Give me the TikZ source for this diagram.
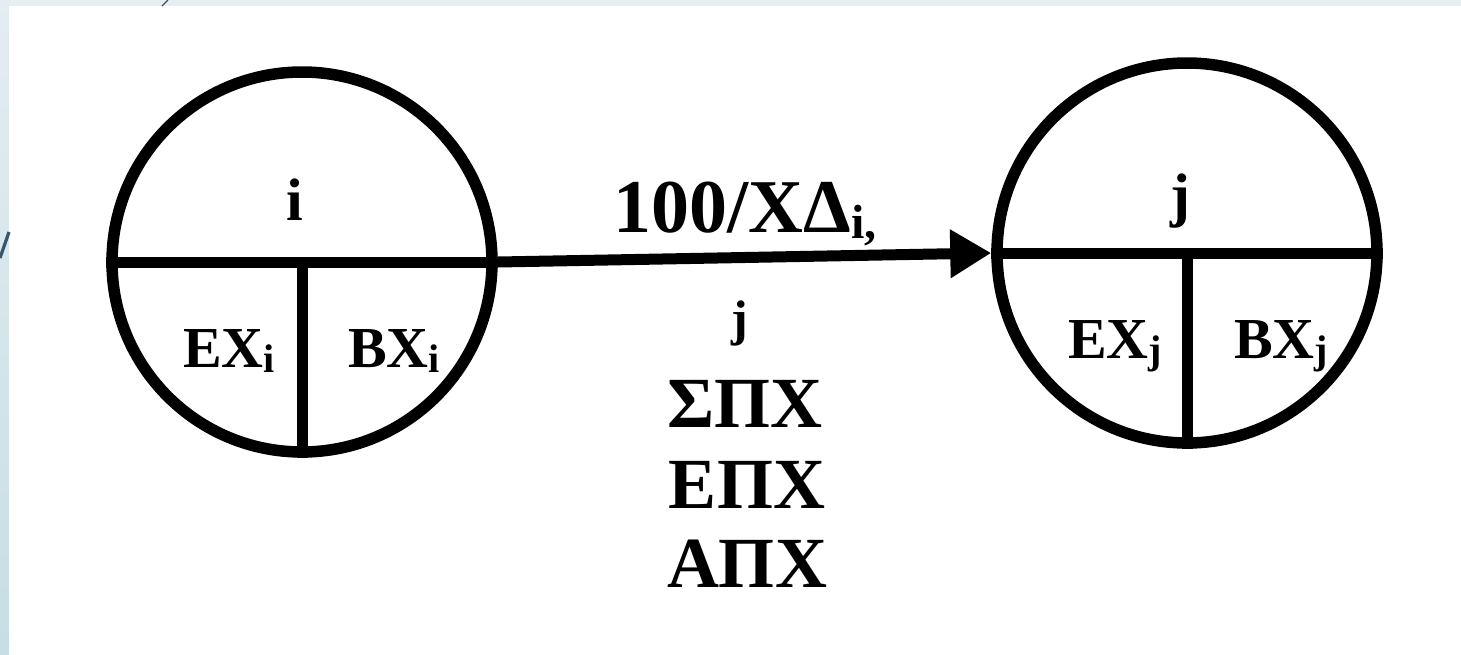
\documentclass[tikz,border=0pt]{standalone}
\usepackage{fontspec}
\setmainfont{Liberation Serif}
\usetikzlibrary{arrows.meta}
\definecolor{stripA}{HTML}{E4EDF1}
\definecolor{stripB}{HTML}{C6DEE5}
\definecolor{topstrip}{HTML}{E6EEF1}
\definecolor{deco}{HTML}{34566F}
\tikzset{
  event/.style={circle, draw=black, line width=5.75pt, minimum size=190pt, inner sep=0pt},
  divider/.style={draw=black, line width=5.5pt},
  lbl/.style={inner sep=0pt, anchor=base, font=\bfseries},
  act/.style={draw=black, line width=5.5pt, -{Triangle[length=20.5pt,width=23pt]}},
}
\newcommand{\subx}[1]{\raisebox{-2.5pt}{\fontsize{20}{20}\selectfont #1}}
\begin{document}
\begin{tikzpicture}[x=0.5pt,y=-0.5pt]
\useasboundingbox (0,0) rectangle (1461,654);
% background
\fill[topstrip] (0,0) rectangle (1461,6);
\shade[top color=stripA, bottom color=stripB] (0,0) rectangle (9,654);
\fill[white] (9,6) rectangle (1461,654);
\draw[deco, line width=0.7pt] (162,6) -- (168,0);
\draw[deco, line width=1.6pt] (0,258) -- (9,232);
% events
\node[event] (ni) at (302,262) {};
\node[event] (nj) at (1187,253) {};
\draw[divider] (ni.west) -- (ni.east);
\draw[divider] (ni.center) -- (ni.south);
\draw[divider] (nj.west) -- (nj.east);
\draw[divider] (nj.center) -- (nj.south);
% labels in events
\node[lbl, font=\bfseries\fontsize{30}{36}\selectfont] (ti) at (295,220) {i};
\node[lbl, font=\bfseries\fontsize{29}{34}\selectfont] (exi) at (229,367) {ΕΧ\subx{i}};
\node[lbl, font=\bfseries\fontsize{29}{34}\selectfont] (bxi) at (394,367) {ΒΧ\subx{i}};
\node[lbl, font=\bfseries\fontsize{30}{36}\selectfont] (tj) at (1180,215) {j};
\node[lbl, font=\bfseries\fontsize{29}{34}\selectfont] (exj) at (1115,358) {ΕΧ\subx{j}};
\node[lbl, font=\bfseries\fontsize{29}{34}\selectfont] (bxj) at (1281,358) {ΒΧ\subx{j}};
% activity
\draw[act] (ni.east) -- (nj.west);
\node[lbl, font=\bfseries\fontsize{38}{44}\selectfont] (dur) at (745,232) {100/ΧΔ\raisebox{-3pt}{\fontsize{24}{24}\selectfont i,}};
\node[lbl, font=\bfseries\fontsize{25}{30}\selectfont] (durj) at (740,335) {j};
\node[lbl, font=\bfseries\fontsize{36}{42}\selectfont] (spx) at (745,427) {ΣΠΧ};
\node[lbl, font=\bfseries\fontsize{36}{42}\selectfont] (epx) at (747,508) {ΕΠΧ};
\node[lbl, font=\bfseries\fontsize{36}{42}\selectfont] (apx) at (747,587) {ΑΠΧ};
\end{tikzpicture}
\end{document}
